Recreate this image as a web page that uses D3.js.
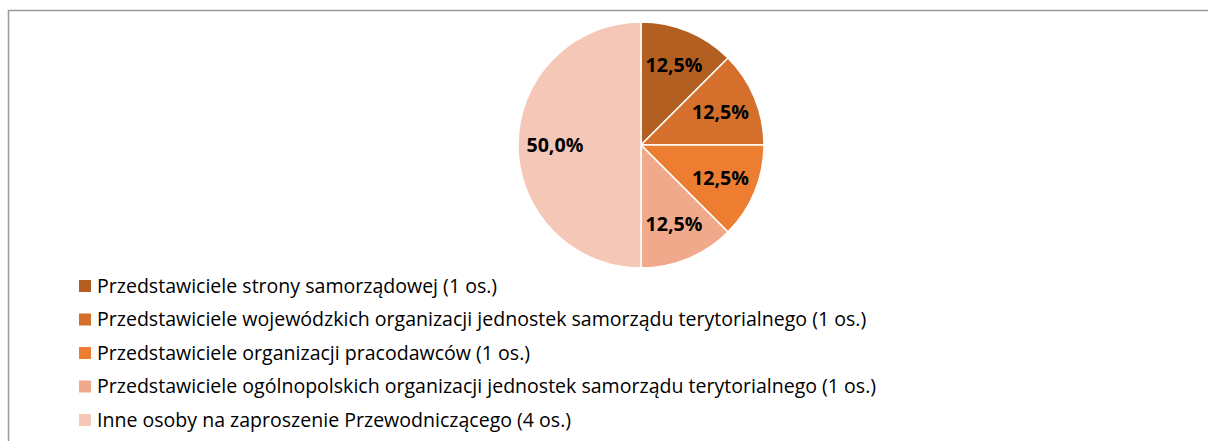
<!DOCTYPE html>
<html>
<head>
<meta charset="utf-8">
<script src="https://cdn.jsdelivr.net/npm/d3@7"></script>
<style>
  body { margin: 0; background: #fff; }
  svg { display: block; }
</style>
</head>
<body>
<svg id="chart" width="1208" height="441"></svg>
<script>
const categories = [
    'Przedstawiciele strony samorządowej (1 os.)',
    'Przedstawiciele wojewódzkich organizacji jednostek samorządu terytorialnego (1 os.)',
    'Przedstawiciele organizacji pracodawców (1 os.)',
    'Przedstawiciele ogólnopolskich organizacji jednostek samorządu terytorialnego (1 os.)',
    'Inne osoby na zaproszenie Przewodniczącego (4 os.)'
];
const persons = [1, 1, 1, 1, 4];
const colors = ['#B45F22', '#D4702C', '#ED7D31', '#F1A98B', '#F5C7B7'];

const font = 'Open Sans, Liberation Sans, sans-serif';
const svg = d3.select('#chart');

// frame (only top and left edges visible in the crop)
svg.append('path')
    .attr('d', 'M8.5,441 V10.5 H1208')
    .attr('fill', 'none')
    .attr('stroke', '#9a9a9a')
    .attr('stroke-width', 1.5);

const cx = 641, cy = 145, r = 123;
const total = d3.sum(persons);
const fmt = v => d3.format('.1f')(v).replace('.', ',') + '%';

const pie = d3.pie().sort(null).value(d => d);
const arc = d3.arc().innerRadius(0).outerRadius(r);
const labelArc = d3.arc().innerRadius(r * 0.7).outerRadius(r * 0.7);

const g = svg.append('g').attr('transform', `translate(${cx},${cy})`);

const slices = g.selectAll('g.slice')
    .data(pie(persons))
    .enter()
    .append('g')
    .attr('class', 'slice');

slices.append('path')
    .attr('d', arc)
    .attr('fill', (d, i) => colors[i])
    .attr('stroke', '#fff')
    .attr('stroke-width', 1.5);

const labels = slices.append('text')
    .attr('transform', d => `translate(${labelArc.centroid(d)})`)
    .attr('text-anchor', 'middle')
    .attr('dy', '0.35em')
    .attr('font-family', font)
    .attr('font-weight', 'bold')
    .attr('font-size', 17)
    .attr('fill', '#000')
    .text(d => fmt(d.data / total * 100));

// fit label size to the ~57px width of "12,5%" in the reference
const lw = labels.node().getComputedTextLength();
labels.attr('font-size', 17 * 57 / lw);

// legend
const legend = svg.append('g');
const rowY = d3.scalePoint().domain(d3.range(categories.length)).range([286, 420]);

const items = legend.selectAll('g.item')
    .data(categories)
    .enter()
    .append('g')
    .attr('class', 'item')
    .attr('transform', (d, i) => `translate(79,${rowY(i)})`);

items.append('rect')
    .attr('x', 0)
    .attr('y', -6)
    .attr('width', 12)
    .attr('height', 12)
    .attr('fill', (d, i) => colors[i]);

const texts = items.append('text')
    .attr('x', 18)
    .attr('dy', '0.35em')
    .attr('font-family', font)
    .attr('font-size', 17)
    .attr('fill', '#000')
    .text(d => d);

// second row spans ~770px in the reference
const tw = texts.nodes()[1].getComputedTextLength();
texts.attr('font-size', 17 * 770 / tw);
</script>
</body>
</html>
